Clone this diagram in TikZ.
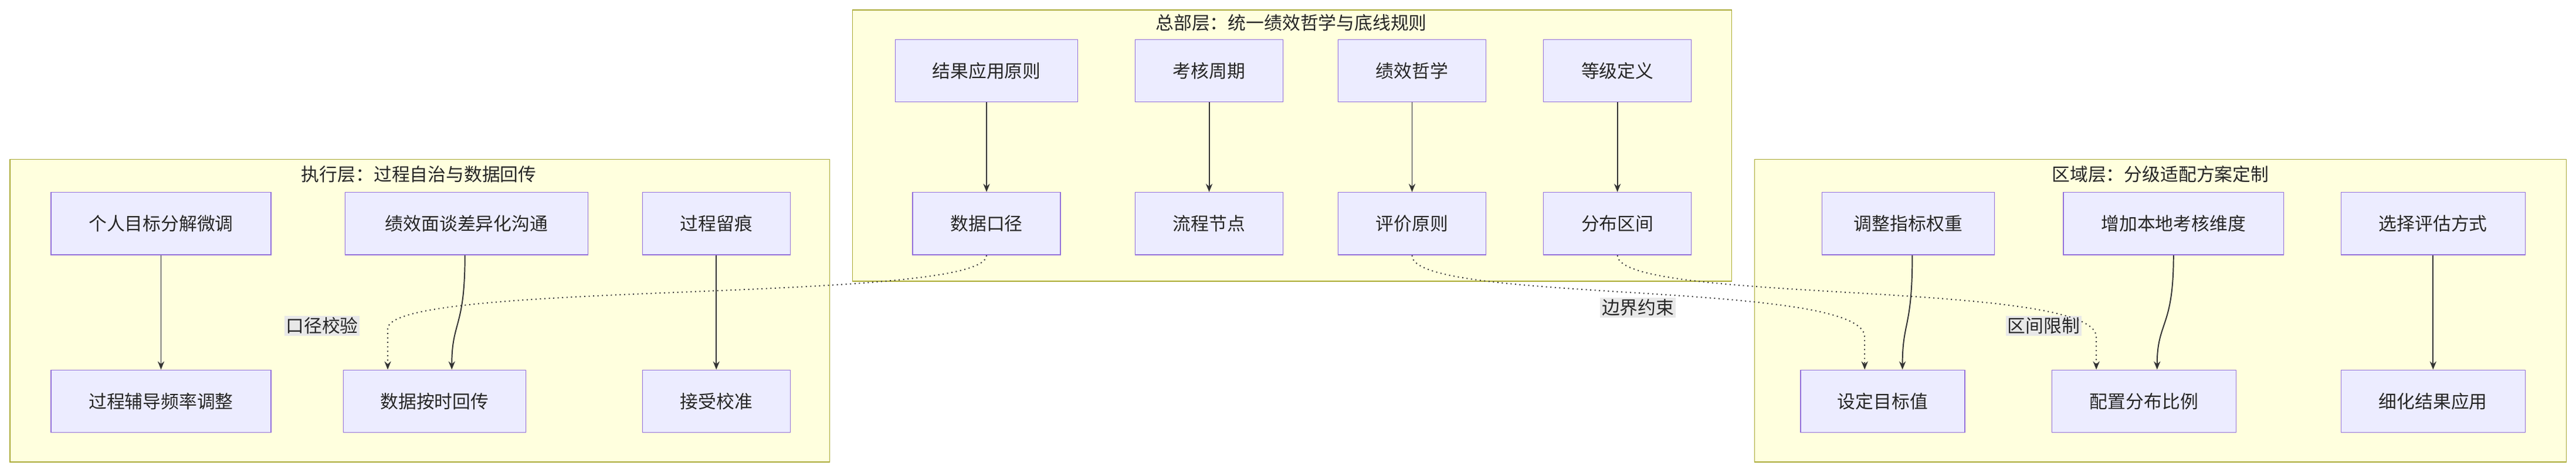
\documentclass[tikz,border=0pt]{standalone}
\usepackage{fontspec}
\setmainfont{Noto Sans CJK SC}
\usetikzlibrary{arrows.meta}
\definecolor{nfill}{HTML}{ECECFF}\definecolor{nline}{HTML}{9370DB}
\definecolor{cfill}{HTML}{FFFFDE}\definecolor{cline}{HTML}{AAAA33}
\definecolor{lbl}{HTML}{E8E8E8}
\begin{document}
\begin{tikzpicture}[x=1pt,y=-1pt,
 box/.style={draw=nline,fill=nfill,line width=0.5pt,minimum height=38pt,inner sep=0pt,font=\fontsize{11}{13}\selectfont,text=black!85},
 clus/.style={draw=cline,fill=cfill,line width=0.5pt},
 ttl/.style={font=\fontsize{11}{13}\selectfont,text=black!85},
 arr/.style={-{Stealth[length=5pt,width=4pt]},line width=0.7pt,draw=black!80},
 dot/.style={arr,dotted},
 elab/.style={fill=lbl,inner sep=1pt,font=\fontsize{11}{13}\selectfont,text=black!85}]
\useasboundingbox (0,0) rectangle (1568,287);
\fill[white] (0,0) rectangle (1568,287);
\draw[clus] (519,6) rectangle (1054,171);
\draw[clus] (6,97) rectangle (505,281);
\draw[clus] (1068,97) rectangle (1562,281);
\node[ttl] (t1) at (786,14) {总部层：统一绩效哲学与底线规则};
\node[ttl] (t2) at (255,106) {执行层：过程自治与数据回传};
\node[ttl] (t3) at (1315,106) {区域层：分级适配方案定制};
% top
\node[box,minimum width=111pt] (a1) at (600.5,43) {结果应用原则};
\node[box,minimum width=90pt] (a2) at (736,43) {考核周期};
\node[box,minimum width=90pt] (a3) at (859.5,43) {绩效哲学};
\node[box,minimum width=90pt] (a4) at (984.5,43) {等级定义};
\node[box,minimum width=90pt] (b1) at (600.5,136) {数据口径};
\node[box,minimum width=90pt] (b2) at (736,136) {流程节点};
\node[box,minimum width=90pt] (b3) at (859.5,136) {评价原则};
\node[box,minimum width=90pt] (b4) at (984.5,136) {分布区间};
% left
\node[box,minimum width=134pt] (c1) at (98,136) {个人目标分解微调};
\node[box,minimum width=148pt] (c2) at (284,136) {绩效面谈差异化沟通};
\node[box,minimum width=90pt] (c3) at (436,136) {过程留痕};
\node[box,minimum width=134pt] (d1) at (98,244) {过程辅导频率调整};
\node[box,minimum width=111pt] (d2) at (264.5,244) {数据按时回传};
\node[box,minimum width=90pt] (d3) at (436,244) {接受校准};
% right
\node[box,minimum width=105pt] (e1) at (1161.5,136) {调整指标权重};
\node[box,minimum width=134pt] (e2) at (1323,136) {增加本地考核维度};
\node[box,minimum width=112pt] (e3) at (1481,136) {选择评估方式};
\node[box,minimum width=100pt] (f1) at (1146,244) {设定目标值};
\node[box,minimum width=112pt] (f2) at (1305,244) {配置分布比例};
\node[box,minimum width=112pt] (f3) at (1481,244) {细化结果应用};
% solid edges
\draw[arr] (a1) -- (b1);
\draw[arr] (a2) -- (b2);
\draw[arr] (a3) -- (b3);
\draw[arr] (a4) -- (b4);
\draw[arr] (c1) -- (d1);
\draw[arr] (c2.south -| 283,0) .. controls (283,200) and (275,195) .. (d2.north -| 275,0);
\draw[arr] (c3) -- (d3);
\draw[arr] (e1.south -| 1164,0) .. controls (1164,200) and (1158,195) .. (f1.north -| 1158,0);
\draw[arr] (e2.south -| 1323,0) .. controls (1323,200) and (1313,195) .. (f2.north -| 1313,0);
\draw[arr] (e3) -- (f3);
% dotted edges
\node[elab] (l1) at (196,198) {口径校验};
\node[elab] (l2) at (997,187) {边界约束};
\node[elab] (l3) at (1244,198) {区间限制};
\draw[dot] (b1.south) .. controls (600,185) and (236,170) .. (236,200) -- (d2.north -| 236,0);
\draw[dot] (b3.south) .. controls (859,185) and (1135,170) .. (1135,205) -- (f1.north -| 1135,0);
\draw[dot] (b4.south) .. controls (985,185) and (1276,170) .. (1276,205) -- (f2.north -| 1276,0);
\end{tikzpicture}
\end{document}
